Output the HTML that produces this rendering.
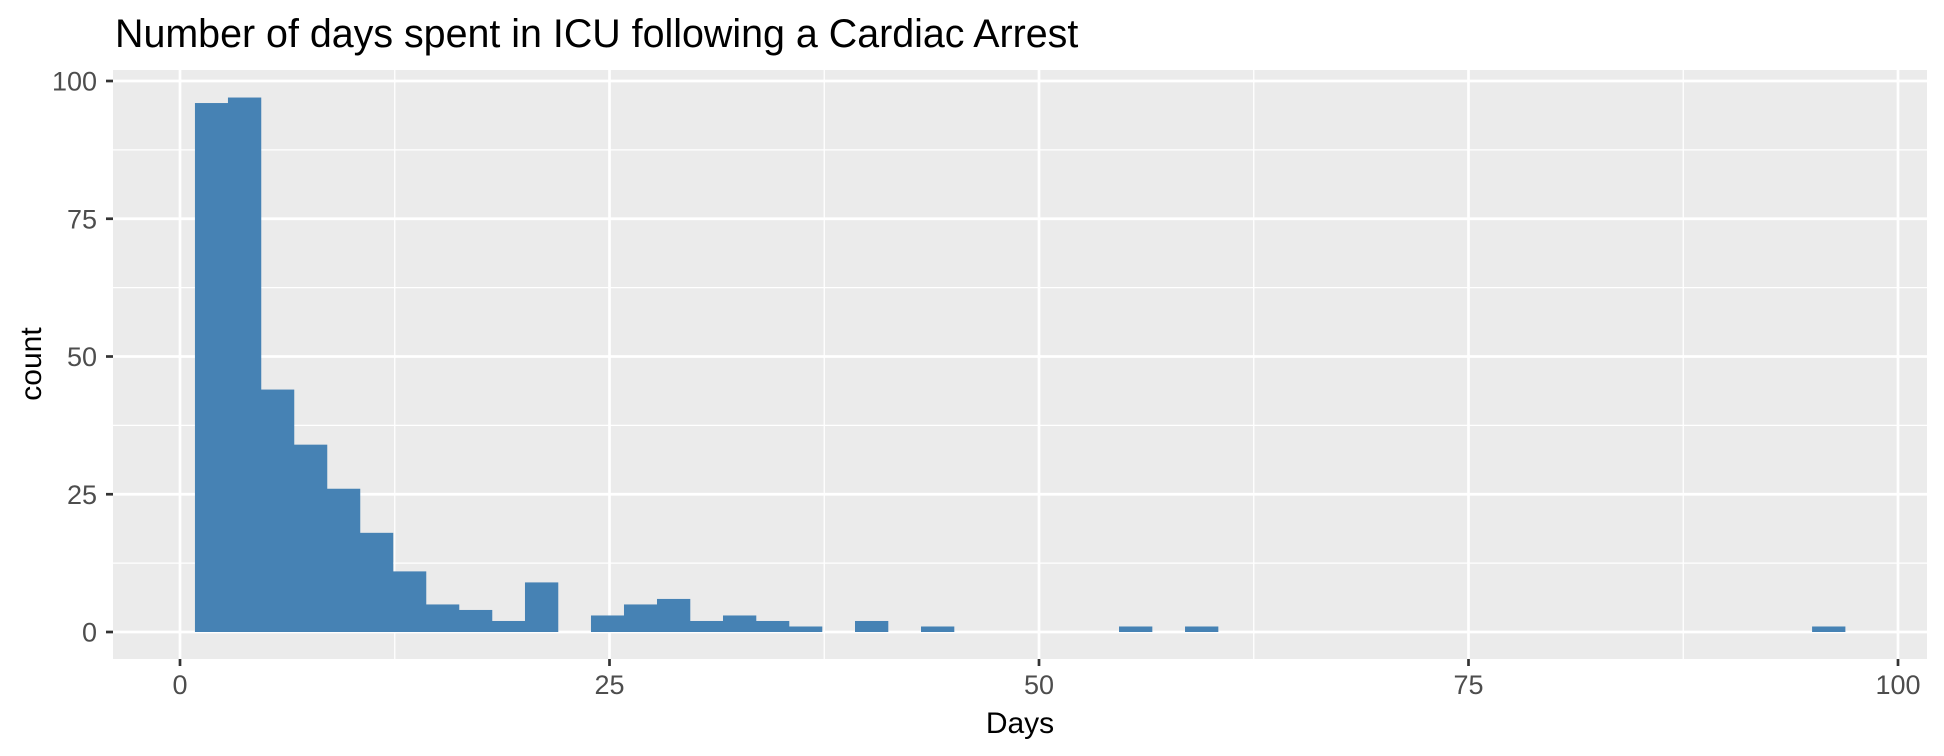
<!DOCTYPE html>
<html><head><meta charset="utf-8"><style>
html,body{margin:0;padding:0;background:#fff;}
svg{display:block;font-family:"Liberation Sans",Arial,sans-serif;}
</style></head><body>
<svg id="chart" width="1944" height="756" viewBox="0 0 1944 756" xmlns="http://www.w3.org/2000/svg">
<text x="115" y="47" font-size="39.4" fill="#000">Number of days spent in ICU following a Cardiac Arrest</text>
<rect x="113" y="70" width="1814" height="589" fill="#ebebeb"/>
<g id="grid"></g>
<g id="bars"></g>
<g id="axes"></g>
<text x="1020" y="733" font-size="30" text-anchor="middle" fill="#000">Days</text>
<text transform="translate(41,364) rotate(-90)" font-size="30" text-anchor="middle" fill="#000">count</text>
</svg>
<script>
const binStart = 0.87;
const binWidth = 1.921;
const counts = [96,97,44,34,26,18,11,5,4,2,9,0,3,5,6,2,3,2,1,0,2,0,1,0,0,0,0,0,1,0,1,0,0,0,0,0,0,0,0,0,0,0,0,0,0,0,0,0,0,1];
const xTicks = [0,25,50,75,100];
const yTicks = [0,25,50,75,100];
const xTickLabels = ["0","25","50","75","100"];
const yTickLabels = ["0","25","50","75","100"];

const PL=113,PR=1927,PT=70,PB=659;
const x0=180,x100=1898,y0=632,y100=81;
function xs(v){return x0+(x100-x0)*v/100;}
function ys(v){return y0-(y0-y100)*v/100;}
const NS="http://www.w3.org/2000/svg";
function mk(tag,attrs,parent){const e=document.createElementNS(NS,tag);for(const k in attrs)e.setAttribute(k,attrs[k]);parent.appendChild(e);return e;}
const grid=document.getElementById('grid'),bars=document.getElementById('bars'),axes=document.getElementById('axes');
for(let i=0;i<xTicks.length-1;i++){
  const m=(xTicks[i]+xTicks[i+1])/2;
  const l=mk('line',{x1:xs(m),x2:xs(m),y1:PT,y2:PB,stroke:'#fff','stroke-width':1.3},grid);
  
  
}
for(let i=0;i<yTicks.length-1;i++){
  const m=(yTicks[i]+yTicks[i+1])/2;
  const l=mk('line',{x1:PL,x2:PR,y1:ys(m),y2:ys(m),stroke:'#fff','stroke-width':1.3},grid);
  
  
}
xTicks.forEach((t,i)=>{
  const l=mk('line',{x1:xs(t),x2:xs(t),y1:PT,y2:PB,stroke:'#fff','stroke-width':2.7},grid);
  
  
  const tk=mk('line',{x1:xs(t),x2:xs(t),y1:PB,y2:PB+7,stroke:'#333','stroke-width':2.7},axes);
  
  
  const tx=mk('text',{x:xs(t),y:694,'font-size':27,'text-anchor':'middle',fill:'#4d4d4d'},axes);
  tx.textContent=xTickLabels[i];
  
  
});
yTicks.forEach((t,i)=>{
  const l=mk('line',{x1:PL,x2:PR,y1:ys(t),y2:ys(t),stroke:'#fff','stroke-width':2.7},grid);
  
  
  const tk=mk('line',{x1:PL-7,x2:PL,y1:ys(t),y2:ys(t),stroke:'#333','stroke-width':2.7},axes);
  
  
  const tx=mk('text',{x:97,y:ys(t)+9.5,'font-size':27,'text-anchor':'end',fill:'#4d4d4d'},axes);
  tx.textContent=yTickLabels[i];
  
  
});
counts.forEach((c,i)=>{
  if(c<=0)return;
  const a=xs(binStart+i*binWidth),b=xs(binStart+(i+1)*binWidth);
  const r=mk('rect',{x:a,y:ys(c),width:b-a+0.3,height:ys(0)-ys(c),fill:'#4682b4'},bars);
  
  
});
</script>
</body></html>
